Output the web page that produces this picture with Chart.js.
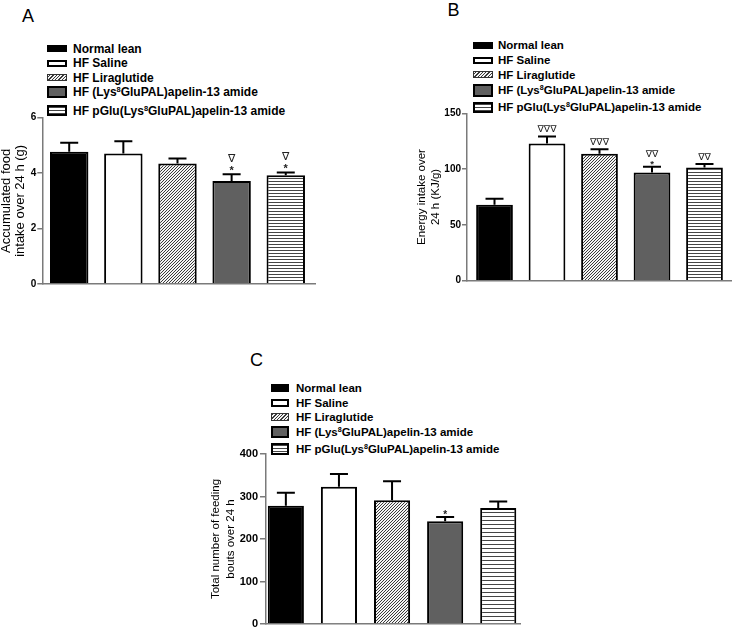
<!DOCTYPE html>
<html><head><meta charset="utf-8">
<script src="https://cdn.jsdelivr.net/npm/chart.js@4.4.0/dist/chart.umd.min.js"></script>
<style>
html,body{margin:0;padding:0;background:#fff;}
body{position:relative;width:732px;height:627px;overflow:hidden;font-family:"Liberation Sans",Arial,sans-serif;}
canvas{position:absolute;}
.letter{position:absolute;font-size:18px;line-height:18px;color:#000;}
.leg{position:absolute;font-weight:bold;color:#000;white-space:nowrap;}
.row{position:absolute;left:0;height:16px;line-height:16px;}
.sw{position:absolute;left:0;box-sizing:border-box;}
.tx{position:absolute;top:0;}
sup{font-size:0.62em;vertical-align:0.5em;line-height:0;}
</style></head><body>
<div class="letter" id="LA">A</div>
<div class="letter" id="LB">B</div>
<div class="letter" id="LC">C</div>
<div class="leg" id="legA"></div>
<div class="leg" id="legB"></div>
<div class="leg" id="legC"></div>
<canvas id="cA"></canvas>
<canvas id="cB"></canvas>
<canvas id="cC"></canvas>
<script>
// ---------- data ----------
const categories = ["Normal lean", "HF Saline", "HF Liraglutide",
  "HF (Lys<sup>8</sup>GluPAL)apelin-13 amide", "HF pGlu(Lys<sup>8</sup>GluPAL)apelin-13 amide"];

const foodIntakeA = [4.77, 4.71, 4.35, 3.72, 3.92];
const foodSemA    = [0.33, 0.44, 0.18, 0.24, 0.10];
const nablaA      = ["", "", "", "∇", "∇"];
const starA       = ["", "", "", "*", "*"];
const ticksA      = [0, 2, 4, 6];
const titleA      = ["Accumulated food", "intake over 24 h (g)"];

const energyB     = [68.0, 123.0, 113.7, 97.0, 101.4];
const energySemB  = [5.5, 6.3, 4.0, 5.0, 3.2];
const nablaB      = ["", "∇∇∇", "∇∇∇", "∇∇", "∇∇"];
const starB       = ["", "", "", "*", ""];
const ticksB      = [0, 50, 100, 150];
const titleB      = ["Energy intake over", "24 h (KJ/g)"];

const boutsC      = [278, 323, 291, 242, 273];
const boutsSemC   = [31, 30, 45, 10, 15];
const nablaC      = ["", "", "", "", ""];
const starC       = ["", "", "", "*", ""];
const ticksC      = [0, 100, 200, 300, 400];
const titleC      = ["Total number of feeding", "bouts over 24 h"];

// ---------- layout ----------
const FONT = '"Liberation Sans", Arial, sans-serif';
const layoutA = {canvas:{left:-5, top:100, width:335, height:200}, pad:{left:3.75, top:17.7, right:15, bottom:16},
  yWidth:43.55, xMin:-0.497, xMax:4.54, barPct:0.71, tickLen:5, tickPad:1, tickSize:10,
  titleSize:13, titleLH:1.115, stripe:3, cap:18, errW:2, mFont:11, starGap:6.5, nablaGap:8, nablaStarGap:16.5,
  letter:{left:22, top:6.8}, leg:{left:47, txt:26, fs:12, sww:20, rows:[48.8, 63, 77.5, 92.3, 110.5], swh:[7,7,7,12,11]}};
const layoutB = {canvas:{left:405, top:100, width:327, height:200}, pad:{left:10.1, top:13.3, right:0, bottom:19.3},
  yWidth:51.9, xMin:-0.524, xMax:4.524, barPct:0.70, tickLen:5, tickPad:1, tickSize:10,
  titleSize:11.5, titleLH:1.2, stripe:3, cap:18, errW:2, mFont:9.5, starGap:5, nablaGap:7.5, nablaStarGap:13.5,
  letter:{left:447.5, top:0.8}, leg:{left:473, txt:25, fs:11.5, sww:20, rows:[45, 60, 74.5, 90, 107], swh:[7,7,7,13,11]}};
const layoutC = {canvas:{left:200, top:440, width:340, height:200}, pad:{left:8.5, top:14, right:20, bottom:16},
  yWidth:57.5, xMin:-0.374, xMax:4.41, barPct:0.68, tickLen:6, tickPad:2, tickSize:11,
  titleSize:11.5, titleLH:1.3, stripe:4, cap:18, errW:2, mFont:10, starGap:5, nablaGap:7.5, nablaStarGap:13.5,
  letter:{left:250, top:351}, leg:{left:271, txt:25, fs:11.5, sww:18, rows:[388.3, 402.7, 417.3, 432.3, 449.3], swh:[8,8,8,12,12]}};

// ---------- patterns ----------
function hatchPattern(){
  const c=document.createElement('canvas'); c.width=3; c.height=3;
  const g=c.getContext('2d'); g.fillStyle='#f4f4f4'; g.fillRect(0,0,3,3);
  g.fillStyle='#3a3a3a'; g.fillRect(0,2,1,1); g.fillRect(1,1,1,1); g.fillRect(2,0,1,1);
  return g.createPattern(c,'repeat');
}
function stripePattern(p){
  const c=document.createElement('canvas'); c.width=4; c.height=p;
  const g=c.getContext('2d'); g.fillStyle='#fff'; g.fillRect(0,0,4,p);
  g.fillStyle='#454545'; g.fillRect(0,0,4,1);
  return g.createPattern(c,'repeat');
}
function fills(L){ return ['#000000', '#ffffff', hatchPattern(), '#606060', stripePattern(L.stripe)]; }

const swatchCss = [
  'background:#000;',
  'background:#fff;border:2px solid #000;',
  'background:repeating-linear-gradient(-45deg,#3a3a3a 0 1px,#f4f4f4 1px 2.4px);border:1px solid #333;',
  'background:#606060;border:2px solid #000;',
  'background:repeating-linear-gradient(to bottom,#454545 0 1px,#fff 1px 3px);border:2px solid #000;'
];

function buildLegend(id, L){
  const el=document.getElementById(id);
  el.style.left=L.leg.left+'px'; el.style.top='0px'; el.style.fontSize=L.leg.fs+'px';
  categories.forEach((lab,i)=>{
    const r=document.createElement('div'); r.className='row';
    r.style.top=(L.leg.rows[i]-8)+'px';
    const s=document.createElement('div'); s.className='sw';
    s.style.cssText=swatchCss[i]; s.style.width=L.leg.sww+'px'; s.style.height=L.leg.swh[i]+'px';
    s.style.top=(8-L.leg.swh[i]/2)+'px';
    const t=document.createElement('span'); t.className='tx'; t.style.left=L.leg.txt+'px'; t.innerHTML=lab;
    r.appendChild(s); r.appendChild(t); el.appendChild(r);
  });
}

function errPlugin(P, L){
  return {id:'err'+P.id, afterDatasetsDraw(chart){
    const c=chart.ctx, ys=chart.scales.y, meta=chart.getDatasetMeta(0);
    c.save(); c.strokeStyle='#000'; c.lineWidth=L.errW; c.lineCap='butt';
    meta.data.forEach((bar,i)=>{
      const top=ys.getPixelForValue(P.values[i]+P.sem[i]);
      const base=ys.getPixelForValue(P.values[i]);
      c.beginPath(); c.moveTo(bar.x, base); c.lineTo(bar.x, top);
      c.moveTo(bar.x-L.cap/2, top); c.lineTo(bar.x+L.cap/2, top); c.stroke();
      c.fillStyle='#222'; c.textAlign='center'; c.textBaseline='alphabetic';
      if(P.star[i]){ c.font='bold '+(L.mFont)+'px '+FONT; const cy=top-L.starGap; c.fillText(P.star[i], bar.x, cy+0.57*(L.mFont)); }
      if(P.nabla[i]){ c.font=L.mFont+'px "DejaVu Sans", '+FONT; const cy=top-(P.star[i]?L.nablaStarGap:L.nablaGap); c.fillText(P.nabla[i], bar.x, cy+0.36*L.mFont); }
    });
    c.restore();
  }};
}

function makeChart(cid, P, L){
  const cv=document.getElementById(cid);
  cv.width=L.canvas.width; cv.height=L.canvas.height;
  cv.style.left=L.canvas.left+'px'; cv.style.top=L.canvas.top+'px';
  cv.style.width=L.canvas.width+'px'; cv.style.height=L.canvas.height+'px';
  return new Chart(cv, {
    type:'bar',
    data:{datasets:[{data:P.values.map((v,i)=>({x:i,y:v})), backgroundColor:fills(L), borderColor:'#000', borderWidth:2,
      borderSkipped:'start', barPercentage:L.barPct, categoryPercentage:1}]},
    options:{responsive:false, animation:false, devicePixelRatio:1,
      layout:{padding:L.pad},
      plugins:{legend:{display:false}, tooltip:{enabled:false}},
      scales:{
        x:{type:'linear', min:L.xMin, max:L.xMax, offset:false,
           grid:{display:false, drawTicks:false}, ticks:{display:false},
           border:{display:true, color:'#7a7a7a', width:1.5},
           afterFit(s){ s.height=0; }},
        y:{type:'linear', min:0, max:P.ticks[P.ticks.length-1],
           afterBuildTicks(s){ s.ticks=P.ticks.map(v=>({value:v})); },
           grid:{display:true, drawOnChartArea:false, drawTicks:true, tickLength:L.tickLen, color:'#7a7a7a', lineWidth:1.5},
           border:{display:true, color:'#7a7a7a', width:1.5},
           ticks:{color:'#000', padding:L.tickPad, autoSkip:false, font:{family:FONT, size:L.tickSize, weight:'bold'}},
           title:{display:true, text:P.title, color:'#000', padding:0, font:{family:FONT, size:L.titleSize, lineHeight:L.titleLH}},
           afterFit(s){ s.width=L.yWidth; }}
      }},
    plugins:[errPlugin(P,L)]
  });
}

function placeLetter(id, L){ const e=document.getElementById(id); e.style.left=L.letter.left+'px'; e.style.top=L.letter.top+'px'; }

const PA={id:'A', values:foodIntakeA, sem:foodSemA, nabla:nablaA, star:starA, ticks:ticksA, title:titleA};
const PB={id:'B', values:energyB, sem:energySemB, nabla:nablaB, star:starB, ticks:ticksB, title:titleB};
const PC={id:'C', values:boutsC, sem:boutsSemC, nabla:nablaC, star:starC, ticks:ticksC, title:titleC};

placeLetter('LA', layoutA); placeLetter('LB', layoutB); placeLetter('LC', layoutC);
buildLegend('legA', layoutA); buildLegend('legB', layoutB); buildLegend('legC', layoutC);
makeChart('cA', PA, layoutA); makeChart('cB', PB, layoutB); makeChart('cC', PC, layoutC);
</script>
</body></html>
